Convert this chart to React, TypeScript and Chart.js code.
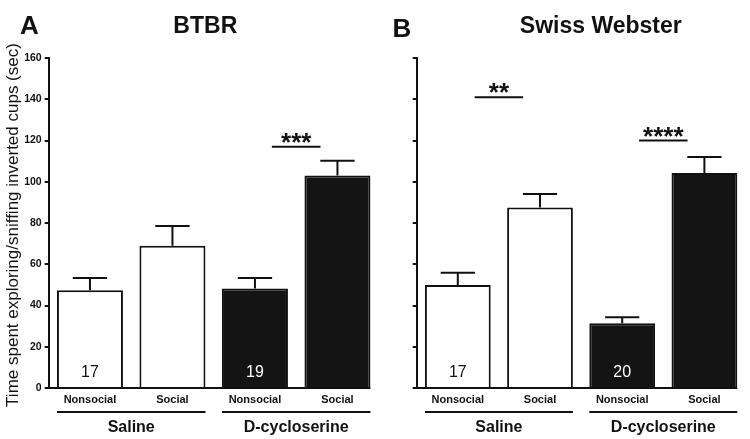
import React, { useEffect, useRef } from 'react';
import { Chart, registerables } from 'chart.js';

Chart.register(...registerables);

// ---------- data ----------
const categories = ['Nonsocial', 'Social', 'Nonsocial', 'Social'];
const groups = ['Saline', 'D-cycloserine'];
const yMin = 0;
const yMax = 160;
const yStep = 20;
const yTitle = 'Time spent exploring/sniffing inverted cups (sec)';

const btbrMeans = [47.4, 69.0, 48.3, 103.0];
const btbrSem = [5.9, 9.5, 5.0, 7.2];
const btbrN = ['17', '', '19', ''];
const btbrSig = [{ from: 2, to: 3, y: 117, label: '***' }];

const swissMeans = [49.9, 87.5, 31.4, 104.2];
const swissSem = [6.0, 6.6, 2.9, 7.8];
const swissN = ['17', '', '20', ''];
const swissSig = [
  { from: 0, to: 1, y: 141, label: '**' },
  { from: 2, to: 3, y: 120, label: '****' },
];

const barFills = ['#ffffff', '#ffffff', '#141414', '#141414'];
const nColors = ['#111111', '#111111', '#ffffff', '#ffffff'];

const FONT = '"Liberation Sans", Arial, Helvetica, sans-serif';
const INK = '#111111';

type Sig = { from: number; to: number; y: number; label: string };
type PanelCfg = {
  letter: string;
  title: string;
  means: number[];
  sem: number[];
  n: string[];
  sig: Sig[];
  width: number;
  yWidth: number;
  padRight: number;
  showYLabels: boolean;
  showYTitle: boolean;
  letterX: number;
  letterBase: number;
  titleX: number;
  titleBase: number;
};

function makePlugin(cfg: PanelCfg) {
  return {
    id: 'panelDecor' + cfg.letter,
    afterDatasetsDraw(chart: any) {
      const ctx: CanvasRenderingContext2D = chart.ctx;
      const meta = chart.getDatasetMeta(0);
      const ys = chart.scales.y;
      const area = chart.chartArea;
      const els = meta.data;
      ctx.save();
      ctx.strokeStyle = INK;
      ctx.lineWidth = 2;
      // error bars (upper only)
      els.forEach((el: any, i: number) => {
        const yTop = ys.getPixelForValue(cfg.means[i]);
        const yErr = ys.getPixelForValue(cfg.means[i] + cfg.sem[i]);
        const half = el.width * 0.26;
        ctx.beginPath();
        ctx.moveTo(el.x, yTop);
        ctx.lineTo(el.x, yErr);
        ctx.moveTo(el.x - half, yErr);
        ctx.lineTo(el.x + half, yErr);
        ctx.stroke();
      });
      // x axis line to end of last bar
      const last = els[els.length - 1];
      ctx.beginPath();
      ctx.moveTo(area.left - 1, area.bottom);
      ctx.lineTo(last.x + last.width / 2, area.bottom);
      ctx.stroke();
      // n labels
      ctx.font = '16px ' + FONT;
      ctx.textAlign = 'center';
      ctx.textBaseline = 'alphabetic';
      els.forEach((el: any, i: number) => {
        if (!cfg.n[i]) return;
        ctx.fillStyle = nColors[i];
        ctx.fillText(cfg.n[i], el.x, ys.getPixelForValue(0) - 11);
      });
      // significance
      cfg.sig.forEach((s) => {
        const a = els[s.from].x;
        const b = els[s.to].x;
        const mid = (a + b) / 2;
        const half = (b - a) * 0.295;
        const py = ys.getPixelForValue(s.y);
        ctx.strokeStyle = INK;
        ctx.beginPath();
        ctx.moveTo(mid - half, py);
        ctx.lineTo(mid + half, py);
        ctx.stroke();
        ctx.fillStyle = INK;
        ctx.font = 'bold 26px ' + FONT;
        ctx.textAlign = 'center';
        ctx.fillText(s.label, mid, py + 4);
      });
      ctx.restore();
    },
    afterDraw(chart: any) {
      const ctx: CanvasRenderingContext2D = chart.ctx;
      const meta = chart.getDatasetMeta(0);
      const area = chart.chartArea;
      const els = meta.data;
      ctx.save();
      ctx.fillStyle = INK;
      ctx.strokeStyle = INK;
      // panel letter
      ctx.font = 'bold 26px ' + FONT;
      ctx.textAlign = 'left';
      ctx.textBaseline = 'alphabetic';
      ctx.fillText(cfg.letter, cfg.letterX, cfg.letterBase);
      // title
      ctx.font = 'bold 23px ' + FONT;
      ctx.textAlign = 'center';
      ctx.fillText(cfg.title, cfg.titleX, cfg.titleBase);
      // group lines and labels
      ctx.lineWidth = 2;
      groups.forEach((g, gi) => {
        const e1 = els[gi * 2];
        const e2 = els[gi * 2 + 1];
        const x1 = e1.x - e1.width / 2;
        const x2 = e2.x + e2.width / 2;
        const ly = area.bottom + 24;
        ctx.beginPath();
        ctx.moveTo(x1, ly);
        ctx.lineTo(x2, ly);
        ctx.stroke();
        ctx.font = 'bold 16px ' + FONT;
        ctx.textAlign = 'center';
        ctx.fillText(g, (x1 + x2) / 2, area.bottom + 44);
      });
      // y title
      if (cfg.showYTitle) {
        ctx.save();
        ctx.translate(17.5, (area.top + area.bottom) / 2 + 2);
        ctx.rotate(-Math.PI / 2);
        ctx.font = '17px ' + FONT;
        ctx.textAlign = 'center';
        ctx.textBaseline = 'alphabetic';
        ctx.fillText(yTitle, 0, 0);
        ctx.restore();
      }
      ctx.restore();
    },
  };
}

function Panel({ cfg, left }: { cfg: PanelCfg; left: number }) {
  const ref = useRef<HTMLCanvasElement | null>(null);
  useEffect(() => {
    if (!ref.current) return;
    const chart = new Chart(ref.current, {
      type: 'bar',
      data: {
        labels: categories,
        datasets: [
          {
            data: cfg.means,
            backgroundColor: barFills,
            borderColor: INK,
            borderWidth: 2,
            barPercentage: 0.8,
            categoryPercentage: 1.0,
          },
        ],
      },
      options: {
        responsive: false,
        animation: false,
        events: [],
        layout: { padding: { left: 0, right: cfg.padRight, top: 58, bottom: 0 } },
        plugins: {
          legend: { display: false },
          tooltip: { enabled: false },
          title: { display: false },
        },
        scales: {
          x: {
            type: 'category',
            offset: true,
            grid: { display: false, drawTicks: false },
            border: { display: false },
            ticks: {
              color: INK,
              font: { family: FONT, size: 11, weight: 'bold' },
              padding: 5,
              maxRotation: 0,
              autoSkip: false,
            },
            afterFit: (s: any) => {
              s.height = 51;
            },
          },
          y: {
            min: yMin,
            max: yMax,
            ticks: {
              stepSize: yStep,
              color: INK,
              font: { family: FONT, size: 10.5, weight: 'bold' },
              padding: 3,
              callback: (v: any) => (cfg.showYLabels ? String(v) : ''),
            },
            grid: {
              drawOnChartArea: false,
              drawTicks: true,
              tickLength: 4,
              color: INK,
              lineWidth: 2,
            },
            border: { display: true, color: INK, width: 2 },
            afterFit: (s: any) => {
              s.width = cfg.yWidth;
            },
          },
        },
      } as any,
      plugins: [makePlugin(cfg)],
    });
    return () => chart.destroy();
  }, []);
  return (
    <canvas
      ref={ref}
      width={cfg.width}
      height={439}
      style={{ position: 'absolute', left, top: 0, width: cfg.width, height: 439 }}
    />
  );
}

const leftCfg: PanelCfg = {
  letter: 'A',
  title: 'BTBR',
  means: btbrMeans,
  sem: btbrSem,
  n: btbrN,
  sig: btbrSig,
  width: 382,
  yWidth: 48.7,
  padRight: 3.3,
  showYLabels: true,
  showYTitle: true,
  letterX: 20,
  letterBase: 33.5,
  titleX: 205.3,
  titleBase: 33.3,
};

const rightCfg: PanelCfg = {
  letter: 'B',
  title: 'Swiss Webster',
  means: swissMeans,
  sem: swissSem,
  n: swissN,
  sig: swissSig,
  width: 368,
  yWidth: 34.7,
  padRight: 4.5,
  showYLabels: false,
  showYTitle: false,
  letterX: 10.5,
  letterBase: 37.3,
  titleX: 218.8,
  titleBase: 33.3,
};

export default function App() {
  return (
    <div
      style={{
        position: 'fixed',
        left: 0,
        top: 0,
        width: 750,
        height: 439,
        background: '#ffffff',
        overflow: 'hidden',
      }}
    >
      <Panel cfg={leftCfg} left={0} />
      <Panel cfg={rightCfg} left={382} />
    </div>
  );
}
